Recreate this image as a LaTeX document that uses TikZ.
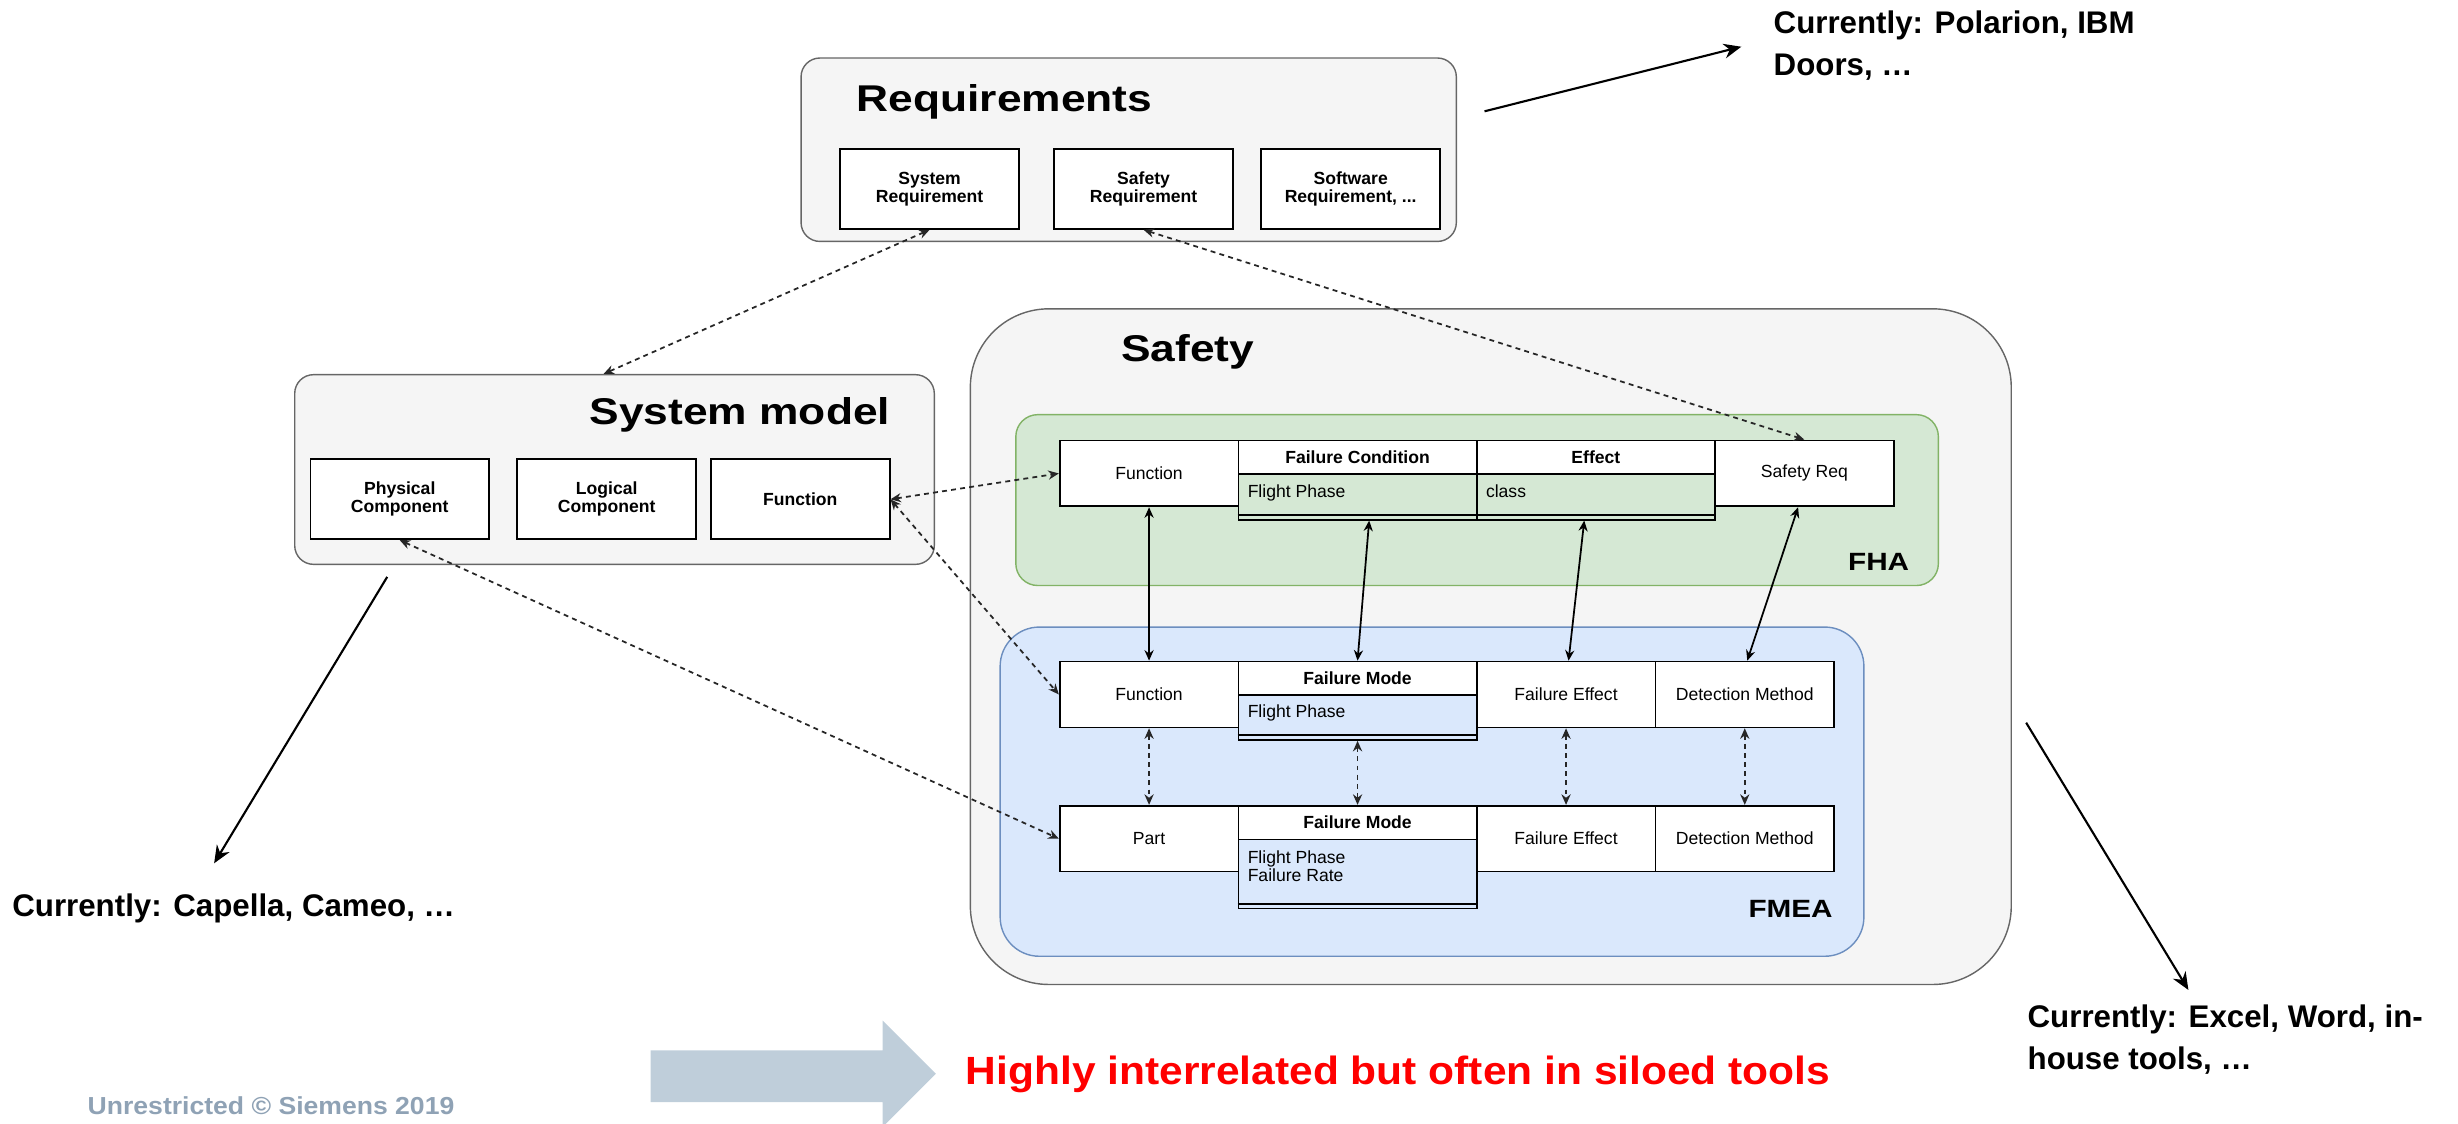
\documentclass[tikz,border=0pt]{standalone}
\usepackage{fontspec}
\setmainfont{Liberation Sans}
\newfontfamily\widefont[FakeStretch=1.19]{Liberation Sans}
\newfontfamily\halfwidefont[FakeStretch=1.08]{Liberation Sans}
\usetikzlibrary{arrows.meta, calc}

\definecolor{grpfill}{HTML}{F5F5F5}
\definecolor{grpline}{HTML}{666666}
\definecolor{fhafill}{HTML}{D5E8D4}
\definecolor{fhaline}{HTML}{82B366}
\definecolor{fmeafill}{HTML}{DAE8FC}
\definecolor{fmealine}{HTML}{6C8EBF}
\definecolor{bigarrow}{HTML}{BFCEDA}
\definecolor{footgrey}{HTML}{8FA2B5}

\newcommand{\pxu}{0.15676mm}
\newcommand{\titlefont}{\widefont\fontsize{10.6}{13}\selectfont\bfseries}
\newcommand{\cellfont}{\fontsize{5.0}{5.2}\selectfont}
\newcommand{\notefont}{\fontsize{8.9}{12}\selectfont\bfseries}

\begin{document}
\begin{tikzpicture}[x=\pxu, y=-\pxu,
    grp/.style={draw=grpline, fill=grpfill, line width=0.4pt, inner sep=0pt},
    cell/.style={draw, fill=white, line width=0.5pt, inner sep=0pt, align=center, minimum width=114*\pxu, minimum height=42*\pxu, font=\cellfont},
    boldcell/.style={cell, minimum height=51*\pxu, font=\cellfont\bfseries},
    head/.style={cell, minimum width=152*\pxu, minimum height=21.5*\pxu, font=\cellfont\bfseries},
    body/.style={draw, line width=0.5pt, inner sep=0pt, minimum width=152*\pxu},
    bodytxt/.style={anchor=base west, inner sep=0pt, font=\cellfont},
    title/.style={inner sep=0pt, font=\titlefont},
    tag/.style={anchor=base east, inner sep=0pt, font=\widefont\fontsize{7.1}{9}\selectfont\bfseries},
    note/.style={inner sep=0pt, align=left, font=\notefont},
    link/.style={line width=0.5pt, <->, >={Stealth[length=3pt,width=2.6pt]}},
    dotlink/.style={link, draw=black!85, dash pattern=on 1.4pt off 1.2pt},
    pointer/.style={line width=0.6pt, -{Stealth[length=5pt,width=4.2pt]}}
]
    \useasboundingbox (0,0) rectangle (1568,717);

    \node[grp, rounded corners=12*\pxu, minimum width=418*\pxu, minimum height=117*\pxu] (req) at (720,95.5) {};
    \node[grp, rounded corners=12*\pxu, minimum width=408*\pxu, minimum height=121*\pxu] (sysmodel) at (392,299.5) {};
    \node[grp, rounded corners=50*\pxu, minimum width=664*\pxu, minimum height=431*\pxu] (safety) at (951,412.5) {};
    \node[grp, draw=fhaline, fill=fhafill, rounded corners=14*\pxu, minimum width=588.5*\pxu, minimum height=109*\pxu] (fha) at (942.25,319) {};
    \node[grp, draw=fmealine, fill=fmeafill, rounded corners=25*\pxu, minimum width=551*\pxu, minimum height=210*\pxu] (fmea) at (913.5,505) {};

    \node[title, anchor=base west] (reqTitle) at (546,71) {Requirements};
    \node[title, anchor=base east] (smTitle) at (568.3,271) {System model};
    \node[title, anchor=base west] (safTitle) at (714.7,230.8) {Safety};

    \node[boldcell] (sysreq) at (593,120.5) {System\\Requirement};
    \node[boldcell] (safreq) at (729.5,120.5) {Safety\\Requirement};
    \node[boldcell] (swreq) at (861.6,120.5) {Software\\Requirement, ...};
    \node[boldcell] (physcomp) at (255,318.5) {Physical\\Component};
    \node[boldcell] (logcomp) at (387,318.5) {Logical\\Component};
    \node[boldcell] (smfunc) at (510.5,318.5) {Function};

    \node[cell] (fhaFunc) at (733,302) {Function};
    \node[head] (fhaCond) at (866,291.75) {Failure Condition};
    \node[body, fill=fhafill, minimum height=29*\pxu] (fhaCondBody) at (866,317) {};
    \node[head] (fhaEff) at (1018,291.75) {Effect};
    \node[body, fill=fhafill, minimum height=29*\pxu] (fhaEffBody) at (1018,317) {};
    \node[cell] (fhaReq) at (1151,302) {Safety Req};
    \node[bodytxt] (fhaCondTxt) at (795.5,317.3) {Flight Phase};
    \node[bodytxt] (fhaEffTxt) at (947.5,317.3) {class};
    \draw[line width=0.5pt] ($(fhaCondBody.south west)+(0,-3.5)$) -- ($(fhaEffBody.south east)+(0,-3.5)$);
    \node[tag] (fhaTag) at (1218.3,363.7) {FHA};

    \node[cell] (fmFunc) at (733,443) {Function};
    \node[head] (fmMode) at (866,432.75) {Failure Mode};
    \node[body, fill=fmeafill, minimum height=28.5*\pxu] (fmModeBody) at (866,457.75) {};
    \node[cell] (fmEff) at (999,443) {Failure Effect};
    \node[cell] (fmDet) at (1113,443) {Detection Method};
    \node[bodytxt] (fmModeTxt) at (795.5,457.9) {Flight Phase};
    \draw[line width=0.5pt] ($(fmModeBody.south west)+(0,-3.5)$) -- ($(fmModeBody.south east)+(0,-3.5)$);

    \node[cell] (ptPart) at (733,535) {Part};
    \node[head] (ptMode) at (866,524.75) {Failure Mode};
    \node[body, fill=fmeafill, minimum height=44*\pxu] (ptModeBody) at (866,557.5) {};
    \node[cell] (ptEff) at (999,535) {Failure Effect};
    \node[cell] (ptDet) at (1113,535) {Detection Method};
    \node[bodytxt] (ptPhaseTxt) at (795.5,550.7) {Flight Phase};
    \node[bodytxt] (ptRateTxt) at (795.5,562.3) {Failure Rate};
    \draw[line width=0.5pt] ($(ptModeBody.south west)+(0,-3.5)$) -- ($(ptModeBody.south east)+(0,-3.5)$);
    \node[tag] (fmeaTag) at (1169.5,585.5) {FMEA};

    \draw[dotlink] (sysreq.south) -- ($(sysmodel.north)+(-7,0)$);
    \draw[dotlink] (safreq.south) -- (fhaReq.north);
    \draw[dotlink] (smfunc.east) -- (fhaFunc.west);
    \draw[dotlink] (smfunc.east) -- (fmFunc.west);
    \draw[dotlink] (physcomp.south) -- (ptPart.west);

    \draw[link] (fhaFunc.south) -- (fmFunc.north);
    \draw[link] ($(fhaCondBody.south)+(7.4,0)$) -- (fmMode.north);
    \draw[link] ($(fhaEffBody.south)+(-7.4,0)$) -- ($(fmEff.north)+(1.6,0)$);
    \draw[link] ($(fhaReq.south)+(-4,0)$) -- ($(fmDet.north)+(1.6,0)$);

    \draw[dotlink] (fmFunc.south) -- (ptPart.north);
    \draw[dotlink] (fmModeBody.south) -- (ptMode.north);
    \draw[dotlink] (fmEff.south) -- (ptEff.north);
    \draw[dotlink] (fmDet.south) -- (ptDet.north);

    \node[note, anchor=north west] (reqNote) at (1131,6.5) {Currently: Polarion, IBM\\Doors, …};
    \node[note, anchor=base west] (smNote) at (7.4,584.8) {Currently: Capella, Cameo, …};
    \node[note, anchor=north west] (safNote) at (1293,640.5) {Currently: Excel, Word, in-\\house tools, …};

    \coordinate (reqTail) at (947,71);
    \coordinate (reqTip) at (1110.8,29.8);
    \coordinate (smTail) at (247,368);
    \coordinate (smTip) at (136.6,550.7);
    \coordinate (safTail) at (1292.5,461);
    \coordinate (safTip) at (1396,631.5);
    \draw[pointer] (reqTail) -- (reqTip);
    \draw[pointer] (smTail) -- (smTip);
    \draw[pointer] (safTail) -- (safTip);

    \fill[bigarrow] (415,670) -- (563,670) -- (563,651) -- (597,685) -- (563,719) -- (563,703) -- (415,703) -- cycle;
    \node[anchor=base west, inner sep=0pt, text=red, font=\halfwidefont\fontsize{11.2}{13}\selectfont\bfseries] (siloText) at (615.6,691.5) {Highly interrelated but often in siloed tools};
    \node[anchor=base west, inner sep=0pt, text=footgrey, font=\halfwidefont\fontsize{7.0}{8}\selectfont\bfseries] (footer) at (55.5,711) {Unrestricted © Siemens 2019};
\end{tikzpicture}
\end{document}
